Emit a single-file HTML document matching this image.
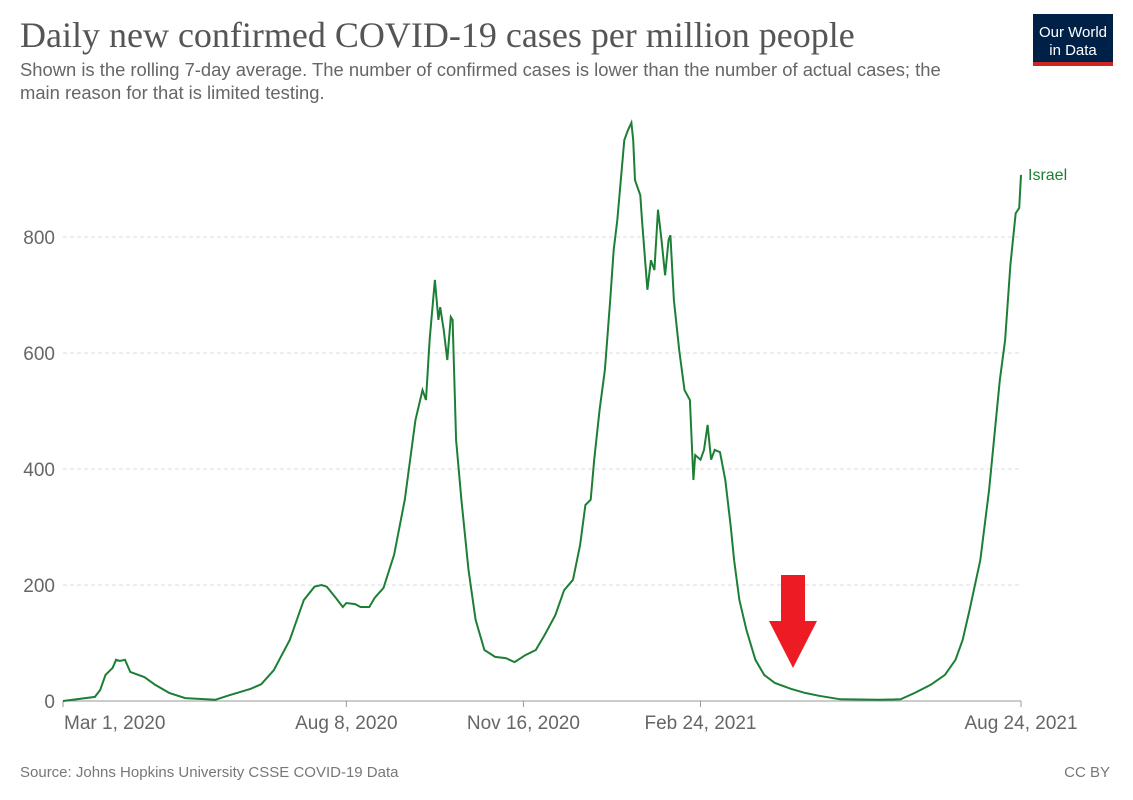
<!DOCTYPE html>
<html><head><meta charset="utf-8"><style>
body{margin:0;background:#fff;font-family:"Liberation Sans",sans-serif;}
#wrap{position:relative;width:1133px;height:800px;overflow:hidden}
</style></head><body>
<div id="wrap">
<svg id="chart" width="1133" height="800">
<text x="20" y="47" font-family="Liberation Serif,serif" font-size="36" fill="#555">Daily new confirmed COVID-19 cases per million people</text>
<text x="20" y="76" font-size="18.4" fill="#666">Shown is the rolling 7-day average. The number of confirmed cases is lower than the number of actual cases; the</text>
<text x="20" y="99" font-size="18.4" fill="#666">main reason for that is limited testing.</text>
<g>
<rect x="1033" y="14" width="80" height="52" fill="#002147"/>
<rect x="1033" y="62" width="80" height="4" fill="#ce261e"/>
<text x="1073" y="37" text-anchor="middle" font-size="15" fill="#fff">Our World</text>
<text x="1073" y="55" text-anchor="middle" font-size="15" fill="#fff">in Data</text>
</g>
<g id="grid"></g><g id="xaxis"></g>
<path id="line" fill="none" stroke="#1d7f35" stroke-width="2"/>
<text x="1028" y="180" font-size="16" fill="#1d7f35">Israel</text>
<path d="M781,575 H805 V621 H817 L793,668 L769,621 H781 Z" fill="#ed1c24"/>
<text x="20" y="777" font-size="15" fill="#777">Source: Johns Hopkins University CSSE COVID-19 Data</text>
<text x="1110" y="777" font-size="15" fill="#777" text-anchor="end">CC BY</text>
</svg></div>
<script>
const days=[0,18,21,24,28,30,32,35,38,46,52,60,69,86,94,106,112,119,128,136,142,146,149,154,158,160,165,168,173,176,181,187,193,199,203,205,207,210,212,213,215,217,219,220,222,225,229,233,238,244,250,255,261,267,272,278,283,288,292,295,298,300,303,306,309,311,313,315,317,319,321,322,323,326,327,330,332,334,336,338,340,342,343,345,348,351,354,356,357,360,362,364,366,368,371,374,377,379,382,386,391,396,402,411,419,427,439,461,473,481,490,498,504,508,512,518,523,529,532,535,538,540,541];
const cases=[0,7,19,45,57,71,69,71,50,41,28,14,5,2,10,21,29,53,105,174,197,200,197,178,162,169,167,162,162,178,195,252,347,484,536,519,622,726,657,679,640,588,662,657,450,347,226,140,88,76,74,67,79,88,114,148,191,209,269,338,347,416,502,571,691,778,829,898,967,984,997,967,898,872,829,709,760,743,847,795,734,795,803,691,605,536,519,381,424,416,433,476,416,433,429,381,303,243,174,122,71,45,31,21,14,9,3,2,3,14,28,45,71,105,157,243,364,553,622,752,841,850,907];
const yTicks=[0,200,400,600,800];
const xTickDays=[0,160,260,360,541];
const xTickLabels=["Mar 1, 2020","Aug 8, 2020","Nov 16, 2020","Feb 24, 2021","Aug 24, 2021"];
const X0=63,X1=1021,Y0=701,YS=0.58,DMAX=541;
const xs=d=>X0+d*(X1-X0)/DMAX, ys=v=>Y0-v*YS;
const NS="http://www.w3.org/2000/svg";
const grid=document.getElementById('grid'),xa=document.getElementById('xaxis');
yTicks.forEach(t=>{
 const l=document.createElementNS(NS,'line');
 l.setAttribute('x1',X0);l.setAttribute('x2',X1);l.setAttribute('y1',ys(t));l.setAttribute('y2',ys(t));
 l.setAttribute('stroke',t===0?'#999':'#ddd');if(t!==0)l.setAttribute('stroke-dasharray','4,3');
 
 
 grid.appendChild(l);
 const tx=document.createElementNS(NS,'text');
 tx.setAttribute('x',55);tx.setAttribute('y',ys(t)+7);tx.setAttribute('text-anchor','end');
 tx.setAttribute('font-size','19');tx.setAttribute('fill','#666');tx.textContent=t;
 
 
 grid.appendChild(tx);
});
xTickDays.forEach((d,i)=>{
 const l=document.createElementNS(NS,'line');
 l.setAttribute('x1',xs(d));l.setAttribute('x2',xs(d));l.setAttribute('y1',Y0);l.setAttribute('y2',Y0+6);l.setAttribute('stroke','#999');
 
 
 xa.appendChild(l);
 const tx=document.createElementNS(NS,'text');
 tx.setAttribute('x',xs(d));tx.setAttribute('y',729);tx.setAttribute('text-anchor',i===0?'start':'middle');
 if(i===0)tx.setAttribute('x',xs(d)+1);
 tx.setAttribute('font-size','19');tx.setAttribute('fill','#666');tx.textContent=xTickLabels[i];
 
 
 xa.appendChild(tx);
});
document.getElementById('line').setAttribute('d',days.map((d,i)=>(i?'L':'M')+xs(d).toFixed(1)+','+ys(cases[i]).toFixed(1)).join(''));
</script>
</body></html>
